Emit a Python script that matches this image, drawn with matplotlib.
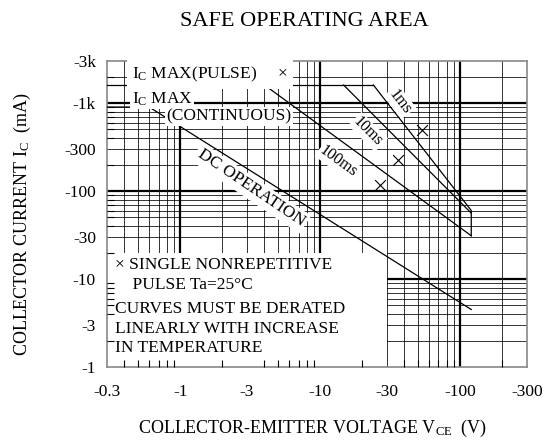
import numpy as np
import matplotlib
matplotlib.use("Agg")
import matplotlib.pyplot as plt
from matplotlib.patches import Rectangle

plt.rcParams['font.family'] = ['Liberation Serif', 'DejaVu Serif']
plt.rcParams['mathtext.fontset'] = 'custom'
plt.rcParams['mathtext.rm'] = 'Liberation Serif'

# ---- data (absolute values: V, mA) ----
dc_v = [0.3, 0.6, 120]
dc_i = [900, 900, 4.5]

pulse_max_v = [0.3, 24]
pulse_max_i = [1600, 1600]

p100ms_v = [4.0, 120]
p100ms_i = [1600, 31]

p10ms_v = [14.7, 100, 120]
p10ms_i = [1600, 75, 56]

p1ms_v = [24, 120, 120]
p1ms_i = [1600, 60, 31]

# measured single pulse points (1ms, 10ms, 100ms)
meas_v = [53, 36, 26.7]
meas_i = [490, 227, 117]

x_ticks = [0.3, 1, 3, 10, 30, 100, 300]
x_labels = ['-0.3', '-1', '-3', '-10', '-30', '-100', '-300']
y_ticks = [1, 3, 10, 30, 100, 300, 1000, 3000]
y_labels = ['-1', '-3', '-10', '-30', '-100', '-300', '-1k', '-3k']

grid_major_x = [1, 10, 100]
grid_minor_x = [0.4, 0.5, 0.6, 0.7, 0.8, 0.9, 2, 3, 4, 5, 6, 7, 8, 9,
                20, 30, 40, 50, 60, 70, 80, 90, 200]
grid_major_y = [10, 100, 1000]
grid_minor_y = [2, 3, 4, 5, 6, 7, 8, 9, 20, 30, 40, 50, 60, 70, 80, 90,
                200, 300, 400, 500, 600, 700, 800, 900, 2000]

fig = plt.figure(figsize=(5.44, 4.48), dpi=100)
ax = fig.add_axes([0.1967, 0.1808, 0.772, 0.683])
ax.set_xscale('log')
ax.set_yscale('log')
ax.set_xlim(0.3, 300)
ax.set_ylim(1, 3000)

# grid drawn by hand so the white label boxes can cover it
for x in grid_minor_x:
    ax.axvline(x, color='black', lw=0.7, alpha=0.8, zorder=1)
for x in grid_major_x:
    ax.axvline(x, color='black', lw=1.6, zorder=1)
for y in grid_minor_y:
    ax.axhline(y, color='black', lw=0.7, alpha=0.8, zorder=1)
for y in grid_major_y:
    ax.axhline(y, color='black', lw=1.6, zorder=1)

# white area of the note box (bottom left)
ax.add_patch(Rectangle((0, 0), 0.667, 0.374, transform=ax.transAxes,
                       facecolor='white', edgecolor='none', zorder=2))

# curves
lc = dict(color='black', lw=0.9, zorder=3)
ax.plot(dc_v, dc_i, **lc)
ax.plot(pulse_max_v, pulse_max_i, **lc)
ax.plot(p100ms_v, p100ms_i, **lc)
ax.plot(p10ms_v, p10ms_i, **lc)
ax.plot(p1ms_v, p1ms_i, **lc)
ax.scatter(meas_v, meas_i, marker='x', s=60, color='black', linewidths=0.8, zorder=5)

box = dict(facecolor='white', edgecolor='none', pad=1.0)
fs = 12.5

ax.text(0.45, 2100, r'I$\mathregular{_C}$ MAX(PULSE)     ×', fontsize=fs, ha='left', va='center',
        zorder=4, bbox=dict(facecolor='white', edgecolor='none', pad=3.5))
ax.text(0.45, 1100, r'I$\mathregular{_C}$ MAX', fontsize=fs, ha='left', va='center',
        zorder=4, bbox=box)
ax.text(0.8, 700, '(CONTINUOUS)', fontsize=fs, ha='left', va='center',
        zorder=4, bbox=box)
ax.text(3.2, 108, 'DC OPERATION', fontsize=fs, ha='center', va='center',
        rotation=-34, zorder=4, bbox=dict(facecolor='white', edgecolor='none', pad=2))
ax.text(37, 1030, '1ms', fontsize=fs - 1, ha='center', va='center',
        rotation=-52, zorder=4, bbox=box)
ax.text(22, 470, '10ms', fontsize=fs - 1, ha='center', va='center',
        rotation=-45, zorder=4, bbox=box)
ax.text(13.5, 215, '100ms', fontsize=fs - 1, ha='center', va='center',
        rotation=-36, zorder=4, bbox=box)

notes = ['× SINGLE NONREPETITIVE', '    PULSE Ta=25°C', 'CURVES MUST BE DERATED',
         'LINEARLY WITH INCREASE', 'IN TEMPERATURE']
note_y = [0.332, 0.267, 0.188, 0.125, 0.063]
for t, y in zip(notes, note_y):
    ax.text(0.02, y, t, transform=ax.transAxes, fontsize=fs, ha='left',
            va='center', zorder=4)

ax.set_xticks(x_ticks)
ax.set_xticklabels(x_labels)
ax.set_yticks(y_ticks)
ax.set_yticklabels(y_labels)
ax.xaxis.set_minor_locator(matplotlib.ticker.FixedLocator(grid_minor_x))
ax.yaxis.set_minor_locator(matplotlib.ticker.FixedLocator(grid_minor_y))
ax.xaxis.set_minor_formatter(matplotlib.ticker.NullFormatter())
ax.yaxis.set_minor_formatter(matplotlib.ticker.NullFormatter())
ax.tick_params(which='major', direction='in', length=0, labelsize=fs)
ax.tick_params(axis='x', which='major', pad=12)
ax.tick_params(axis='y', which='major', pad=8)
ax.tick_params(which='minor', direction='in', length=5, width=0.8)
ax.set_axisbelow(False)
for s in ax.spines.values():
    s.set_color('#888888')
    s.set_linewidth(1.2)

fig.text(0.56, 0.953, 'SAFE OPERATING AREA', fontsize=16, ha='center', va='center')
fig.text(0.574, 0.043, r'COLLECTOR-EMITTER VOLTAGE V$\mathregular{_{CE}}$  (V)',
         fontsize=13, ha='center', va='center')
fig.text(0.042, 0.50, r'COLLECTOR CURRENT I$\mathregular{_C}$  (mA)', fontsize=13,
         ha='center', va='center', rotation=90)

fig.savefig('out.png', dpi=100)
